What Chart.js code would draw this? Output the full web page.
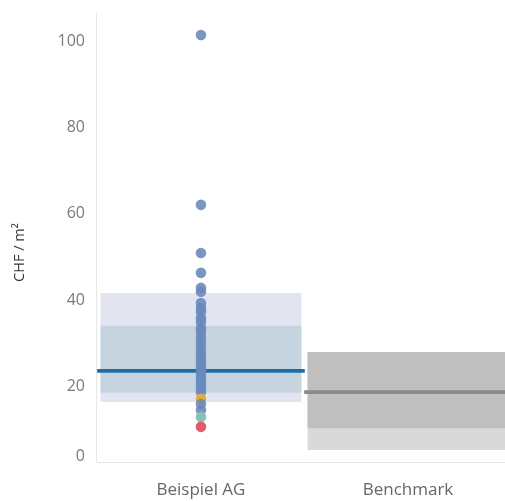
<!DOCTYPE html>
<html><head><meta charset="utf-8">
<script src="https://cdn.jsdelivr.net/npm/chart.js@4/dist/chart.umd.min.js"></script>
<style>html,body{margin:0;padding:0;background:#fff}#wrap{width:505px;height:502px}</style>
</head><body><div id="wrap"><canvas id="c" width="505" height="502"></canvas></div>
<script>
// ---- data ----
const categories = ['Beispiel AG', 'Benchmark'];
const companyValues = [101.6, 62.1, 50.9, 46.3, 42.8, 41.9, 39.3, 38.1, 37.2, 35.8, 34.9, 33.5, 32.6, 31.4, 30.2, 29.1, 27.9, 27.0, 26.0, 25.1, 24.2, 23.3, 22.3, 21.4, 20.5, 19.5, 18.6, 17.0, 15.8, 14.4, 12.8, 10.5];
const companyGroups = ['A','A','A','A','A','A','A','A','A','A','A','A','A','A','A','A','A','A','A','A','A','A','A','A','A','A','A','B','A','A','C','D'];
const companyBandOuter = [16.3, 41.6];
const companyBandInner = [18.4, 34.0];
const companyMedian = 23.5;
const benchBandOuter = [5.1, 27.9];
const benchBandInner = [10.2, 27.9];
const benchMedian = 18.6;
const yTickValues = [0, 20, 40, 60, 80, 100];
const yTitle = 'CHF / m²';

// ---- styles ----
const groupColors = {A: 'rgba(104,137,187,0.88)', B: '#e5ad3e', C: '#88bfb6', D: '#de5c6b'};
const FONT = "'Open Sans', 'Noto Sans', sans-serif";
const LINE_HALF = 0.36;

const ctx = document.getElementById('c').getContext('2d');
new Chart(ctx, {
  type: 'bar',
  data: {
    datasets: [
      { type: 'scatter', data: companyValues.map(v => ({x: 0, y: v})),
        pointBackgroundColor: companyGroups.map(g => groupColors[g]),
        pointBorderWidth: 0, pointRadius: 5.3, order: 0 },
      { data: [{x: 0, y: [companyMedian - LINE_HALF, companyMedian + LINE_HALF]}],
        backgroundColor: '#1f6ea6', grouped: false, barPercentage: 1, categoryPercentage: 1, order: 1 },
      { data: [{x: 1, y: [benchMedian - LINE_HALF, benchMedian + LINE_HALF]}],
        backgroundColor: '#8a8a8a', grouped: false, barPercentage: 1, categoryPercentage: 1, order: 1 },
      { data: [{x: 0, y: companyBandInner}, {x: 1, y: benchBandInner}],
        backgroundColor: ['#c6d4e0', '#bfbfbf'], grouped: false, barPercentage: 0.97, categoryPercentage: 1, order: 2 },
      { data: [{x: 0, y: companyBandOuter}, {x: 1, y: benchBandOuter}],
        backgroundColor: ['#e2e5ef', '#d9d9d9'], grouped: false, barPercentage: 0.97, categoryPercentage: 1, order: 3 }
    ]
  },
  options: {
    responsive: false,
    animation: false,
    devicePixelRatio: 1,
    layout: { autoPadding: false, padding: { top: 13, right: 0, left: 0, bottom: 0 } },
    plugins: { legend: { display: false }, tooltip: { enabled: false } },
    scales: {
      x: {
        type: 'linear', min: -0.507, max: 1.4686, offset: false,
        afterBuildTicks: s => { s.ticks = categories.map((c, i) => ({value: i})); },
        afterFit: s => { s.height = 40; s.paddingLeft = 0; s.paddingRight = 0; },
        grid: { color: 'rgba(0,0,0,0)', drawTicks: false },
        border: { display: true, color: '#e6e6e6' },
        ticks: { autoSkip: false, maxRotation: 0, padding: 18, color: '#666',
          font: { family: FONT, size: 17 },
          callback: (v, i) => categories[i] }
      },
      y: {
        type: 'linear', min: 2.33, max: 106.7,
        afterBuildTicks: s => { s.ticks = yTickValues.map(v => ({value: Math.max(v, s.min + 1.2)})); },
        afterFit: s => { s.width = 96; s.paddingTop = 0; s.paddingBottom = 0; },
        grid: { color: 'rgba(0,0,0,0)', drawTicks: false },
        border: { display: true, color: '#e6e6e6' },
        ticks: { padding: 11, color: '#7a7a7a', font: { family: FONT, size: 16 },
          callback: (v, i) => String(yTickValues[i]) },
        title: { display: true, text: yTitle + '        ', color: '#333', font: { family: FONT, size: 14.5 },
          padding: { top: 11, bottom: 0 } }
      }
    }
  }
});
</script></body></html>
